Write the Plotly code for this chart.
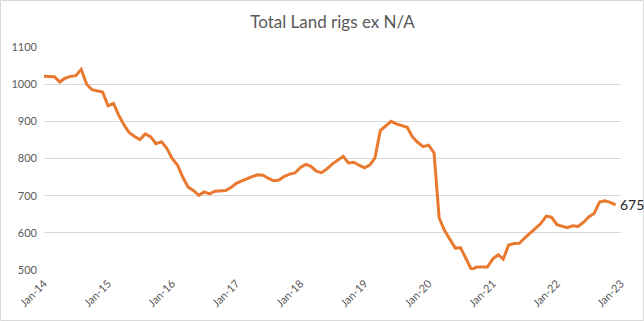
import plotly.graph_objects as go
import pandas as pd

start_month = "2014-01-01"
rigs = [
    1021, 1021, 1020, 1006, 1016, 1021, 1023, 1040, 1000, 985, 983, 979,
    942, 948, 918, 891, 870, 859, 851, 866, 858, 840, 845, 828,
    800, 782, 750, 723, 714, 701, 710, 705, 712, 712, 714, 722,
    733, 740, 746, 751, 756, 755, 747, 740, 742, 752, 758, 761,
    776, 784, 779, 766, 762, 772, 785, 795, 806, 788, 790, 782,
    775, 783, 801, 875, 887, 900, 893, 888, 884, 858, 843, 832,
    836, 815, 640, 606, 581, 559, 560, 530, 501, 508, 508, 508,
    530, 541, 529, 567, 571, 572, 586, 600, 614, 625, 645, 642,
    622, 618, 614, 619, 617, 628, 643, 652, 683, 686, 682, 675,
]
dates = pd.date_range(start_month, periods=len(rigs), freq="MS")
title_text = "Total Land rigs ex N/A"
y_ticks = [500, 600, 700, 800, 900, 1000, 1100]

L, R, T, B = 44, 23, 47, 51
W, H = 644, 321
pw, ph = W - L - R, H - T - B

fig = go.Figure()
fig.add_trace(go.Scatter(
    x=dates, y=rigs, mode="lines",
    line=dict(color="#E8792F", width=3),
    hoverinfo="skip",
))
fig.add_annotation(
    x=dates[-1], y=rigs[-1], text=str(rigs[-1]),
    showarrow=False, xanchor="left", yanchor="middle", xshift=2,
    font=dict(family="Lato", size=14, color="#262626"),
)
fig.add_shape(
    type="rect", xref="paper", yref="paper",
    x0=(-L + 0.5) / pw, x1=(pw + R - 0.5) / pw,
    y0=(-B + 0.5) / ph, y1=(ph + T - 0.5) / ph,
    line=dict(color="#D9D9D9", width=1), layer="below",
)
fig.update_layout(
    width=W, height=H,
    margin=dict(l=L, r=R, t=T, b=B),
    paper_bgcolor="white", plot_bgcolor="white",
    showlegend=False,
    title=dict(text=title_text, x=0.5, xref="paper", y=1 - 22 / H, yanchor="middle",
               font=dict(family="Lato", size=17, color="#595959")),
    xaxis=dict(
        type="date", range=["2014-01-01", "2023-01-01"],
        dtick="M12", tick0="2014-01-01", tickformat="%b-%y",
        tickangle=-45, showgrid=False, zeroline=False, showline=False,
        ticks="", tickfont=dict(family="Lato", size=11, color="#595959"),
        ticklabelstandoff=4,
    ),
    yaxis=dict(
        range=[500, 1100], tickvals=y_ticks,
        showgrid=True, gridcolor="#D9D9D9", gridwidth=1,
        zeroline=False, showline=False, ticks="",
        tickfont=dict(family="Lato", size=11, color="#595959"),
        ticklabelstandoff=6,
    ),
)
fig.write_html("out.html")
